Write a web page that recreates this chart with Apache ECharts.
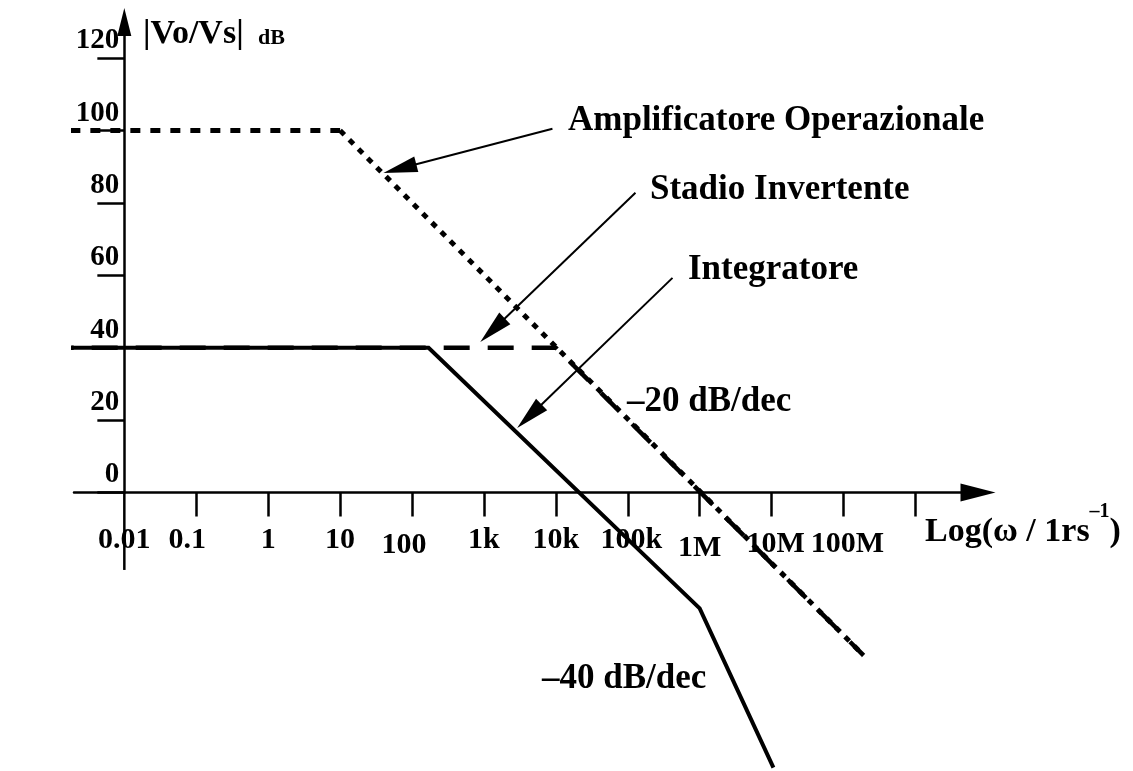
<!DOCTYPE html>
<html><head><meta charset="utf-8">
<script src="https://cdn.jsdelivr.net/npm/echarts@6/dist/echarts.min.js"></script>
<style>html,body{margin:0;padding:0;background:#fff}#c{width:1133px;height:771px}</style>
</head><body><div id="c"></div>
<script>
// ---- data ----
const xTickValues = [0.1, 1, 10, 100, 1e3, 1e4, 1e5, 1e6, 1e7, 1e8, 1e9];
const xLabelValues = [0.01, 0.1, 1, 10, 100, 1e3, 1e4, 1e5, 1e6, 1e7, 1e8];
const xLabels = ['0.01', '0.1', '1', '10', '100', '1k', '10k', '100k', '1M', '10M', '100M'];
const yTickValues = [0, 20, 40, 60, 80, 100, 120];

const opAmpFreq = [0.00026, 10, 1.9e8];
const opAmpGain = [100, 100, -45];
const invFreq = [0.00021, 1e4, 1.9e8];
const invGain = [40, 40, -45];
const intFreq = [0.00021, 170, 1e6, 1.06e7];
const intGain = [40, 40, -32, -76];

const arrowFrom = [[8970, 100.5], [1.28e5, 82.8], [4.19e5, 59.3]];
const arrowTo = [[40, 88.3], [890, 41.6], [2900, 17.8]];

const annTexts = ['Amplificatore Operazionale', 'Stadio Invertente', 'Integratore', '–20 dB/dec', '–40 dB/dec'];

// ---- layout ----
const FONT = 'Liberation Serif';
const gridLeft = 74, gridTop = 22, gridWidth = 904, gridHeight = 470.5;
const xMinLog = -2.7, xMaxLog = 9.87;
const yMin = 0, yMax = 130;
const yStubBottom = -21.4;
const yAxisOffset = -(Math.log10(0.01) - xMinLog) / (xMaxLog - xMinLog) * gridWidth;

function pairs(f, g) { return f.map((v, i) => [v, g[i]]); }

const base = {fontFamily: FONT, fontWeight: 'bold', fontSize: 30, color: '#000'};
const labelRich = {
  n: Object.assign({}, base),
  l9: Object.assign({padding: [0, 18, 0, 0]}, base),
  d100: Object.assign({padding: [5, 16, 0, 0]}, base),
  dM: Object.assign({padding: [8, 0, 0, 0]}, base),
  r: Object.assign({padding: [0, 0, 0, 7]}, base),
  rd: Object.assign({padding: [4, 0, 0, 8]}, base)
};
const labelStyleKey = {'0.1': 'l9', '100': 'd100', '1M': 'dM', '100k': 'r', '10M': 'rd', '100M': 'rd'};

const chart = echarts.init(document.getElementById('c'), null, {renderer: 'canvas'});

const annPos = [[568, 121], [650, 190], [688, 270], [627, 402], [542, 679]];

const option = {
  backgroundColor: '#fff',
  animation: false,
  grid: {left: gridLeft, top: gridTop, width: gridWidth, height: gridHeight, containLabel: false, outerBoundsMode: 'none'},
  xAxis: {
    type: 'log', logBase: 10, position: 'bottom',
    min: Math.pow(10, xMinLog), max: Math.pow(10, xMaxLog),
    axisLine: {show: true, onZero: false, symbol: ['none', 'triangle'], symbolSize: [18, 35],
      lineStyle: {color: '#000', width: 2.5}},
    axisTick: {show: true, customValues: xTickValues, length: 24, inside: false,
      lineStyle: {color: '#000', width: 2.5}},
    axisLabel: {show: true, customValues: xLabelValues, margin: 33,
      fontFamily: FONT, fontWeight: 'bold', fontSize: 30, color: '#000',
      formatter: function (v) {
        const idx = Math.round(Math.log10(v)) + 2;
        const t = xLabels[idx];
        if (t === undefined) return '';
        return '{' + (labelStyleKey[t] || 'n') + '|' + t + '}';
      },
      rich: labelRich},
    splitLine: {show: false}, minorTick: {show: false}, minorSplitLine: {show: false}
  },
  yAxis: {
    type: 'value', min: yMin, max: yMax, position: 'left', offset: yAxisOffset,
    axisLine: {show: true, onZero: false, symbol: ['none', 'triangle'], symbolSize: [14, 28],
      lineStyle: {color: '#000', width: 2.5}},
    axisTick: {show: true, customValues: yTickValues, length: 27, inside: false,
      lineStyle: {color: '#000', width: 2.5}},
    axisLabel: {show: true, customValues: yTickValues, margin: 5, verticalAlign: 'bottom',
      padding: [0, 0, 3, 0],
      fontFamily: FONT, fontWeight: 'bold', fontSize: 29, color: '#000'},
    splitLine: {show: false}
  },
  series: [
    {type: 'line', name: 'Amplificatore Operazionale', data: pairs(opAmpFreq.slice(0, 2), opAmpGain.slice(0, 2)),
      symbol: 'none', clip: false, silent: true,
      lineStyle: {color: '#000', width: 5, type: [10, 10], cap: 'butt'}},
    {type: 'line', name: 'Amplificatore Operazionale ', data: pairs(opAmpFreq.slice(1), opAmpGain.slice(1)),
      symbol: 'none', clip: false, silent: true,
      lineStyle: {color: '#000', width: 5, type: [6, 7], cap: 'butt'}},
    {type: 'line', name: 'Stadio Invertente', data: pairs(invFreq, invGain),
      symbol: 'none', clip: false, silent: true,
      lineStyle: {color: '#000', width: 4.5, type: [26, 18], cap: 'butt'}},
    {type: 'line', name: 'Integratore', data: pairs(intFreq, intGain),
      symbol: 'none', clip: false, silent: true,
      lineStyle: {color: '#000', width: 4, type: 'solid', join: 'miter'}}
  ]
};
chart.setOption(option);

// ---- annotations, placed through the chart's own coordinate system ----
function px(p) { return chart.convertToPixel({seriesIndex: 3}, p); }
const graphics = [];
annTexts.forEach((t, i) => graphics.push({
  type: 'text', x: annPos[i][0], y: annPos[i][1], silent: true,
  style: {text: t, fontFamily: FONT, fontWeight: 'bold', fontSize: 35, fill: '#000', verticalAlign: 'middle', align: 'left'}
}));
graphics.push({type: 'text', x: 143, y: 34, silent: true,
  style: {text: '|Vo/Vs|', fontFamily: FONT, fontWeight: 'bold', fontSize: 34, fill: '#000', verticalAlign: 'middle', align: 'left'}});
graphics.push({type: 'text', x: 258, y: 38, silent: true,
  style: {text: 'dB', fontFamily: FONT, fontWeight: 'bold', fontSize: 22, fill: '#000', verticalAlign: 'middle', align: 'left'}});
graphics.push({type: 'text', x: 925, y: 532, silent: true,
  style: {text: '{m|Log(ω / 1rs}{s|–1}{m|)}', verticalAlign: 'middle', align: 'left',
    rich: {
      m: {fontFamily: FONT, fontWeight: 'bold', fontSize: 34, fill: '#000', lineHeight: 60},
      s: {fontFamily: FONT, fontWeight: 'bold', fontSize: 20, fill: '#000', verticalAlign: 'top'}
    }}});
// y axis continues below the frequency axis
const s0 = px([0.01, 0]), s1 = px([0.01, yStubBottom]);
graphics.push({type: 'line', silent: true, shape: {x1: s0[0], y1: s0[1], x2: s1[0], y2: s1[1]},
  style: {stroke: '#000', lineWidth: 2.5}});
// pointer arrows
arrowFrom.forEach((f, i) => {
  const a = px(f), b = px(arrowTo[i]);
  const dx = b[0] - a[0], dy = b[1] - a[1], L = Math.hypot(dx, dy), ux = dx / L, uy = dy / L;
  const len = 34, hw = 8;
  const bx = b[0] - ux * len, by = b[1] - uy * len;
  graphics.push({type: 'line', silent: true, shape: {x1: a[0], y1: a[1], x2: bx + ux * 4, y2: by + uy * 4},
    style: {stroke: '#000', lineWidth: 2}});
  graphics.push({type: 'polygon', silent: true,
    shape: {points: [[b[0], b[1]], [bx - uy * hw, by + ux * hw], [bx + uy * hw, by - ux * hw]]},
    style: {fill: '#000'}});
});
chart.setOption({graphic: graphics});
</script>
</body></html>
